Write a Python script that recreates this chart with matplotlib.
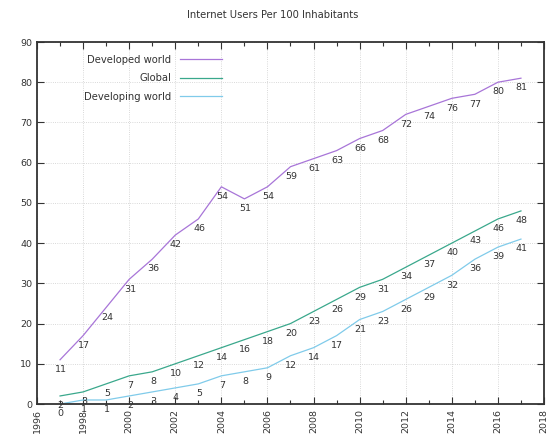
import numpy as np
import matplotlib
matplotlib.use('Agg')
import matplotlib.pyplot as plt
from matplotlib.ticker import MultipleLocator

# Data (ITU, users per 100 inhabitants)
years = list(range(1997, 2018))
developed = [11, 17, 24, 31, 36, 42, 46, 54, 51, 54, 59, 61, 63, 66, 68,
             72, 74, 76, 77, 80, 81]
global_users = [2, 3, 5, 7, 8, 10, 12, 14, 16, 18, 20, 23, 26, 29, 31,
                34, 37, 40, 43, 46, 48]
developing = [0, 1, 1, 2, 3, 4, 5, 7, 8, 9, 12, 14, 17, 21, 23,
              26, 29, 32, 36, 39, 41]

series_names = ['Developed world', 'Global', 'Developing world']
series_vals = [developed, global_users, developing]
series_cols = ['#a875d8', '#3aa88c', '#80cbea']

fig = plt.figure(figsize=(5.46, 4.38), dpi=100)
ax = fig.add_axes([37/546, 1 - 404/438, (544 - 37)/546, (404 - 42)/438])

for name, vals, col in zip(series_names, series_vals, series_cols):
    ax.plot(years, vals, color=col, lw=0.9, label=name)
    for x, v in zip(years, vals):
        ax.annotate(str(v), (x, v), xytext=(0.5, -7), textcoords='offset points',
                    ha='center', va='center', fontsize=6.8, color='#333333')

ax.set_xlim(1996, 2018)
ax.set_ylim(0, 90)
ax.xaxis.set_major_locator(MultipleLocator(2))
ax.xaxis.set_minor_locator(MultipleLocator(1))
ax.yaxis.set_major_locator(MultipleLocator(10))
ax.tick_params(which='both', direction='in', top=True, right=True,
               labelsize=6.8, colors='#333333')
ax.tick_params(which='major', length=5, width=0.8)
ax.tick_params(which='minor', length=3, width=0.8)
ax.tick_params(axis='x', labelrotation=90)
ax.grid(True, which='major', color='#cccccc', ls=':', lw=0.6)
for s in ax.spines.values():
    s.set_color('#333333')
    s.set_linewidth(1.3)

leg = ax.legend(loc='upper left', bbox_to_anchor=(0.075, 0.99), frameon=False,
                markerfirst=False, fontsize=7.2, handlelength=4.2,
                labelspacing=0.85, handletextpad=0.9)
for t in leg.get_texts():
    t.set_ha('right')
    t.set_color('#333333')
leg._legend_box.align = 'right'

fig.text(0.5, 1 - 15/438, 'Internet Users Per 100 Inhabitants', ha='center',
         va='center', fontsize=7.2, color='#333333')

fig.savefig('out.png', dpi=100)
